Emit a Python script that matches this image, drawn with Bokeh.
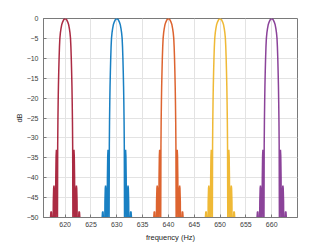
from bokeh.plotting import figure
from bokeh.models import Range1d, FixedTicker
from bokeh.embed import file_html
from bokeh.resources import INLINE

# peak centre frequencies (Hz) and colours
centers = [620, 630, 640, 650, 660]
colors = ["#A2142F", "#0072BD", "#D95319", "#EDB120", "#7E2F8E"]

# one side of the spectral peak shape: offset from centre (Hz) -> level (dB)
half_offset = [0.0, 0.15, 0.3, 0.5, 0.66, 0.82, 0.93, 1.03, 1.11, 1.18, 1.25, 1.31, 1.36, 1.41, 1.45, 1.48,
               1.52, 1.58, 1.64, 1.70, 1.76, 1.82, 1.88,
               1.97, 2.05, 2.12, 2.17, 2.23, 2.30, 2.37,
               2.52, 2.60, 2.66, 2.71, 2.77, 2.84, 2.91]
half_db = [0.0, -0.15, -0.35, -0.9, -1.5, -2.6, -3.6, -5.0, -7.2, -10.0, -13.5, -17.0, -21.0, -26.0, -32.0, -45.0,
           -60.0, -40.0, -34.5, -33.0, -34.5, -40.0, -60.0,
           -60.0, -46.0, -42.6, -42.0, -42.6, -46.0, -60.0,
           -60.0, -50.0, -48.7, -48.5, -48.7, -50.0, -60.0]

x_ticks = [620, 625, 630, 635, 640, 645, 650, 655, 660]
y_ticks = [-50, -45, -40, -35, -30, -25, -20, -15, -10, -5, 0]

p = figure(width=311, height=244, x_range=Range1d(615.8, 665.0), y_range=Range1d(-50, 0),
           output_backend="svg", toolbar_location=None,
           min_border_left=43, min_border_right=14, min_border_top=18, min_border_bottom=26)
p.background_fill_color = "white"
p.border_fill_color = "white"
p.outline_line_color = "#7a7a7a"
p.outline_line_width = 1

# profile for both sides of a peak
offsets = [-o for o in reversed(half_offset[1:])] + half_offset
levels = list(reversed(half_db[1:])) + half_db

for c, col in zip(centers, colors):
    xs = [c + o for o in offsets]
    p.line(xs, levels, line_color=col, line_width=1.5, line_alpha=0.9)

font = "Liberation Sans"
for ax in (p.xaxis[0], p.yaxis[0]):
    ax.axis_line_color = "#7a7a7a"
    ax.major_tick_line_color = "#7a7a7a"
    ax.major_tick_in = 3
    ax.major_tick_out = 0
    ax.minor_tick_line_color = None
    ax.major_label_text_font = font
    ax.major_label_text_font_size = "7px"
    ax.major_label_text_color = "#404040"
    ax.axis_label_text_font = font
    ax.axis_label_text_font_size = "7.5px"
    ax.axis_label_text_font_style = "normal"
    ax.axis_label_text_color = "#262626"

p.xaxis.ticker = FixedTicker(ticks=x_ticks)
p.yaxis.ticker = FixedTicker(ticks=y_ticks)
p.xaxis.axis_label = "frequency (Hz)"
p.yaxis.axis_label = "dB"
p.xaxis.major_label_standoff = 4
p.xaxis.axis_label_standoff = 3
p.yaxis.major_label_standoff = 5
p.yaxis.axis_label_standoff = 0

p.xgrid.ticker = FixedTicker(ticks=x_ticks)
p.ygrid.ticker = FixedTicker(ticks=y_ticks)
p.grid.grid_line_color = "#e3e3e3"
p.grid.grid_line_width = 1

open("out.html", "w").write(file_html(p, INLINE))
